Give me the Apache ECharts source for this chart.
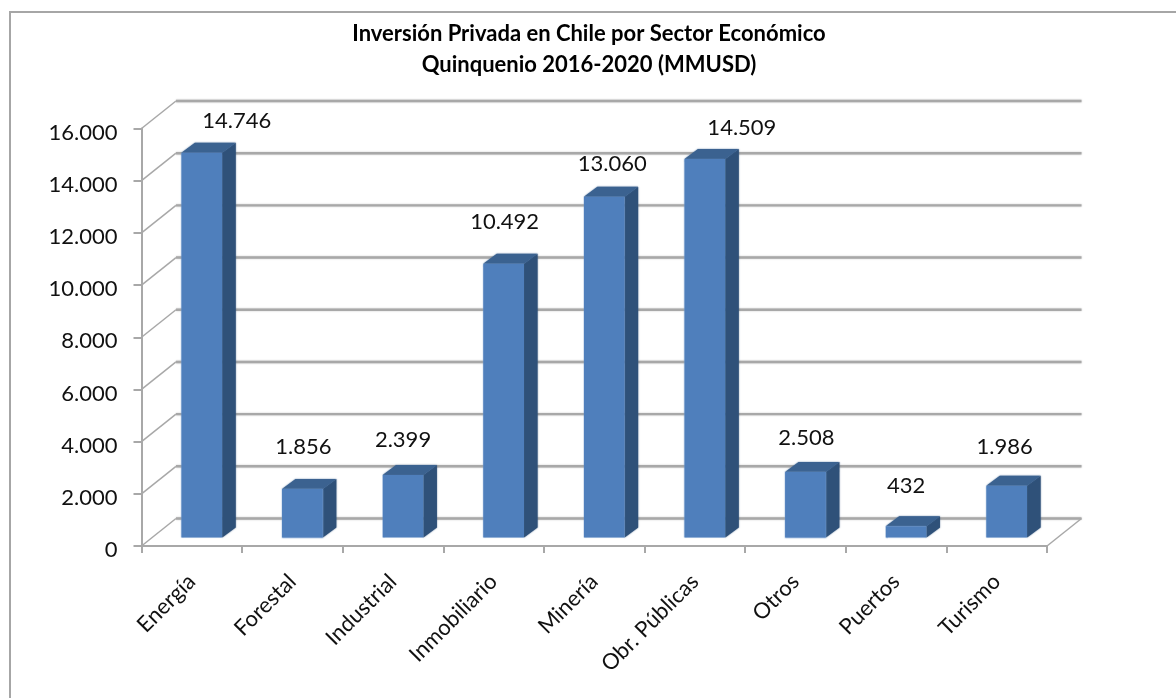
<!DOCTYPE html>
<html><head><meta charset="utf-8">
<style>html,body{margin:0;padding:0;background:#fff}#c{width:1176px;height:698px}</style>
<script src="https://cdn.jsdelivr.net/npm/echarts@6/dist/echarts.min.js"></script>
</head><body><div id="c"></div>
<script>
const categories = ['Energía','Forestal','Industrial','Inmobiliario','Minería','Obr. Públicas','Otros','Puertos','Turismo'];
const values = [14746,1856,2399,10492,13060,14509,2508,432,1986];
const yTicks = [0,2000,4000,6000,8000,10000,12000,14000,16000];
const titleLines = ['Inversión Privada en Chile por Sector Económico','Quinquenio 2016-2020 (MMUSD)'];
// hand placement of each value label relative to the top of its bar, as in the original
const labelDx = [35,1,0,1,8,37,1,0,-2];
const labelDy = [-32,-42,-35,-42,-33,-31,-34,-40,-39];

const fmt = v => String(v).replace(/\B(?=(\d{3})+$)/g,'.');
const FONT = 'Lato';
const WALL = [34.5,-27.5], BAR = [13.5,-10], LIFT = -8.5, SHIFT = 10;
const GRID = '#a8a8a8';

const chart = echarts.init(document.getElementById('c'),null,{renderer:'canvas'});
chart.setOption({
  backgroundColor:'#fff',
  animation:false,
  title:{text:titleLines.join('\n'),left:584,top:13,textAlign:'center',
    textStyle:{fontFamily:FONT,fontWeight:'bold',fontSize:22,lineHeight:31,color:'#000'}},
  grid:{left:141.5,top:128.5,width:905.5,height:417.5},
  xAxis:{type:'category',data:categories,
    axisLine:{show:true,lineStyle:{color:GRID,width:2}},
    axisTick:{show:true,alignWithLabel:false,length:7,lineStyle:{color:GRID,width:2}},
    axisLabel:{interval:0,rotate:45,margin:32,fontFamily:FONT,fontSize:22,color:'#111'},
    splitLine:{show:false}},
  yAxis:{type:'value',min:0,max:16000,interval:2000,
    axisLine:{show:true,lineStyle:{color:GRID,width:2}},
    axisTick:{show:true,length:8,lineStyle:{color:GRID,width:2}},
    axisLabel:{margin:24,fontFamily:FONT,fontSize:22,color:'#111',verticalAlign:'top',lineHeight:8,formatter:fmt},
    splitLine:{show:false}},
  graphic:[
    {type:'polyline',silent:true,z:-1,shape:{points:[[10,698],[10,12],[1176,12]]},style:{fill:'none',stroke:'#a6a6a6',lineWidth:2}}
  ],
  series:[
    {type:'custom',z:1,clip:false,silent:true,data:yTicks.map(t=>[t]),
     encode:{y:0},
     renderItem(p,api){
       const v=api.value(0), a=api.coord([0,v]);
       const x0=p.coordSys.x, x1=x0+p.coordSys.width, y=a[1];
       const soft={shadowBlur:2,shadowColor:'#c4c4c4'};
       const c=[{type:'line',shape:{x1:x0,y1:y,x2:x0+WALL[0],y2:y+WALL[1]},style:{stroke:GRID,lineWidth:1.5}},
                {type:'line',shape:{x1:x0+WALL[0],y1:y+WALL[1],x2:x1+WALL[0],y2:y+WALL[1]},style:{stroke:GRID,lineWidth:2.4,...soft}}];
       if(v===0) c.push({type:'line',shape:{x1:x1,y1:y,x2:x1+WALL[0],y2:y+WALL[1]},style:{stroke:GRID,lineWidth:1.5}});
       return {type:'group',children:c};
     }},
    {type:'custom',z:2,clip:false,silent:true,data:values.map((v,i)=>[i,v]),
     encode:{x:0,y:1},
     renderItem(p,api){
       const i=api.value(0), v=api.value(1);
       const top=api.coord([i,v]), base=api.coord([i,0]);
       const w=api.size([1,0])[0]*0.405;
       const xl=top[0]+SHIFT-w/2, xr=xl+w, yt=top[1]+LIFT, yb=base[1]+LIFT;
       const [dx,dy]=BAR;
       const poly=(pts,fill)=>({type:'polygon',shape:{points:pts},style:{fill,shadowBlur:1.5,shadowColor:fill}});
       return {type:'group',children:[
         poly([[xr,yt],[xr+dx,yt+dy],[xr+dx,yb+dy],[xr,yb]],'#2f5179'),
         poly([[xl,yt],[xl+dx,yt+dy],[xr+dx,yt+dy],[xr,yt]],'#3b6290'),
         {type:'rect',shape:{x:xl,y:yt,width:w,height:yb-yt},style:{fill:'#4f7fbc',shadowBlur:1.5,shadowColor:'#7fa3d0'}},
         {type:'text',style:{x:xl+w/2+labelDx[i],y:yt+labelDy[i],text:fmt(v),align:'center',verticalAlign:'middle',
           font:'22px '+FONT,fill:'#111'}}
       ]};
     }}
  ]
});
</script></body></html>
